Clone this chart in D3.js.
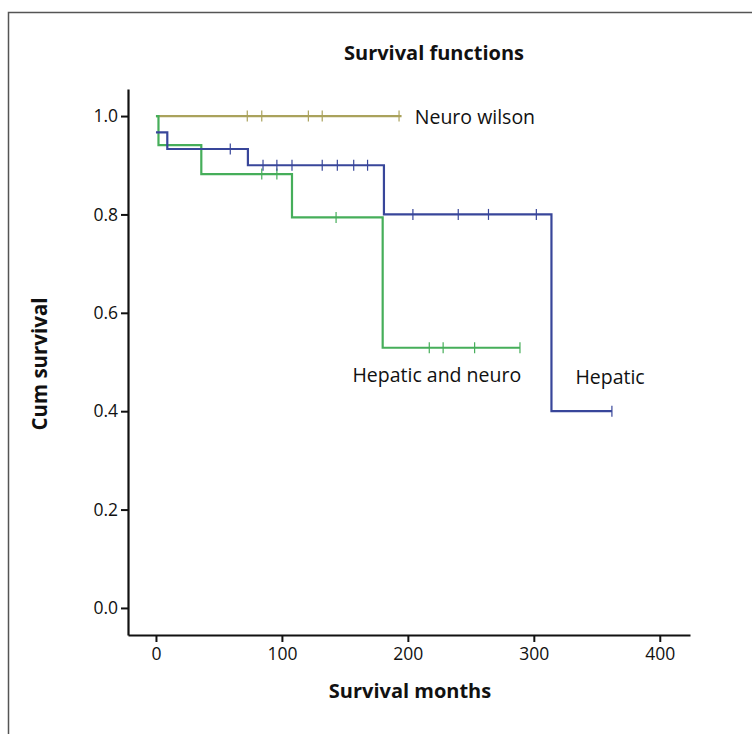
<!DOCTYPE html>
<html>
<head>
<meta charset="utf-8">
<script src="https://cdn.jsdelivr.net/npm/d3@7"></script>
<style>
  body { margin: 0; background: #fff; }
  svg text { font-family: "Open Sans", sans-serif; fill: #111; }
</style>
</head>
<body>
<script>
// Kaplan-Meier steps (months, cumulative survival)
const hepTimes = [0, 9, 73, 181, 314, 362];
const hepSurv  = [0.967, 0.933, 0.9, 0.8, 0.4, 0.4];
const hepCens  = [59, 85, 96, 108, 132, 144, 157, 168, 204, 240, 264, 302, 362];

const hnTimes = [0, 2, 36, 108, 180, 289];
const hnSurv  = [1, 0.941, 0.882, 0.794, 0.529, 0.529];
const hnCens  = [84, 96, 143, 217, 228, 253, 289];

const nwTimes = [0, 195];
const nwSurv  = [1, 1];
const nwCens  = [72.5, 84, 121, 132, 193];

const xTicks = [0, 100, 200, 300, 400];
const yTicks = [0, 0.2, 0.4, 0.6, 0.8, 1.0];

const W = 752, H = 734;

const svg = d3.select("body").append("svg")
    .attr("width", W)
    .attr("height", H);

// frame of the figure (cropped on right/bottom)
svg.append("path")
    .attr("d", `M8.5,${H} L8.5,12.5 L${W},12.5`)
    .attr("fill", "none")
    .attr("stroke", "#555")
    .attr("stroke-width", 1.5);

const x = d3.scaleLinear().domain([-22.2, 424]).range([128, 690]);
const y = d3.scaleLinear().domain([-0.055, 1.055]).range([635, 89]);

const series = [
    {name: "Neuro wilson",      times: nwTimes,  surv: nwSurv,  cens: nwCens,  color: "#aaa25c"},
    {name: "Hepatic and neuro", times: hnTimes,  surv: hnSurv,  cens: hnCens,  color: "#46ae5a"},
    {name: "Hepatic",           times: hepTimes, surv: hepSurv, cens: hepCens, color: "#38469a"},
];

const step = d3.line()
    .x(d => x(d[0]))
    .y(d => y(d[1]))
    .curve(d3.curveStepAfter);

function survAt(s, t) {
    let v = s.surv[0];
    s.times.forEach((tt, i) => { if (tt <= t) v = s.surv[i]; });
    return v;
}

series.forEach(s => {
    const g = svg.append("g");
    g.append("path")
        .attr("d", step(s.times.map((t, i) => [t, s.surv[i]])))
        .attr("fill", "none")
        .attr("stroke", s.color)
        .attr("stroke-width", 2.2);
    g.selectAll("line.cens")
        .data(s.cens)
        .enter().append("line")
        .attr("class", "cens")
        .attr("x1", d => x(d)).attr("x2", d => x(d))
        .attr("y1", d => y(survAt(s, d)) - 5.5)
        .attr("y2", d => y(survAt(s, d)) + 5.5)
        .attr("stroke", s.color)
        .attr("stroke-width", 1.2);
});

// axes
const xAxis = svg.append("g")
    .attr("transform", `translate(0,${y.range()[0]})`)
    .call(d3.axisBottom(x).tickValues(xTicks).tickSize(7).tickPadding(6).tickSizeOuter(0));
const yAxis = svg.append("g")
    .attr("transform", `translate(${x.range()[0]},0)`)
    .call(d3.axisLeft(y).tickValues(yTicks).tickFormat(d3.format(".1f")).tickSize(7).tickPadding(3).tickSizeOuter(0));

[xAxis, yAxis].forEach(a => {
    a.select(".domain").attr("stroke", "#111").attr("stroke-width", 2.2);
    a.selectAll(".tick line").attr("stroke", "#111").attr("stroke-width", 2);
    a.selectAll(".tick text")
        .attr("font-family", "Open Sans, sans-serif")
        .attr("font-size", 17.5)
        .attr("fill", "#111");
});

// titles
svg.append("text")
    .attr("x", 434).attr("y", 60)
    .attr("text-anchor", "middle")
    .attr("font-size", 20).attr("font-weight", "bold")
    .text("Survival functions");

svg.append("text")
    .attr("x", 410).attr("y", 698)
    .attr("text-anchor", "middle")
    .attr("font-size", 20).attr("font-weight", "bold")
    .text("Survival months");

svg.append("text")
    .attr("transform", "translate(47,364) rotate(-90)")
    .attr("text-anchor", "middle")
    .attr("font-size", 20.5).attr("font-weight", "bold")
    .text("Cum survival");

// curve labels
svg.append("text")
    .attr("x", x(205.5)).attr("y", y(1) + 7.5)
    .attr("font-size", 19.5)
    .text("Neuro wilson");
svg.append("text")
    .attr("x", x(156)).attr("y", 382)
    .attr("font-size", 19.5)
    .text("Hepatic and neuro");
svg.append("text")
    .attr("x", x(333)).attr("y", 384)
    .attr("font-size", 19.5)
    .text("Hepatic");
</script>
</body>
</html>
